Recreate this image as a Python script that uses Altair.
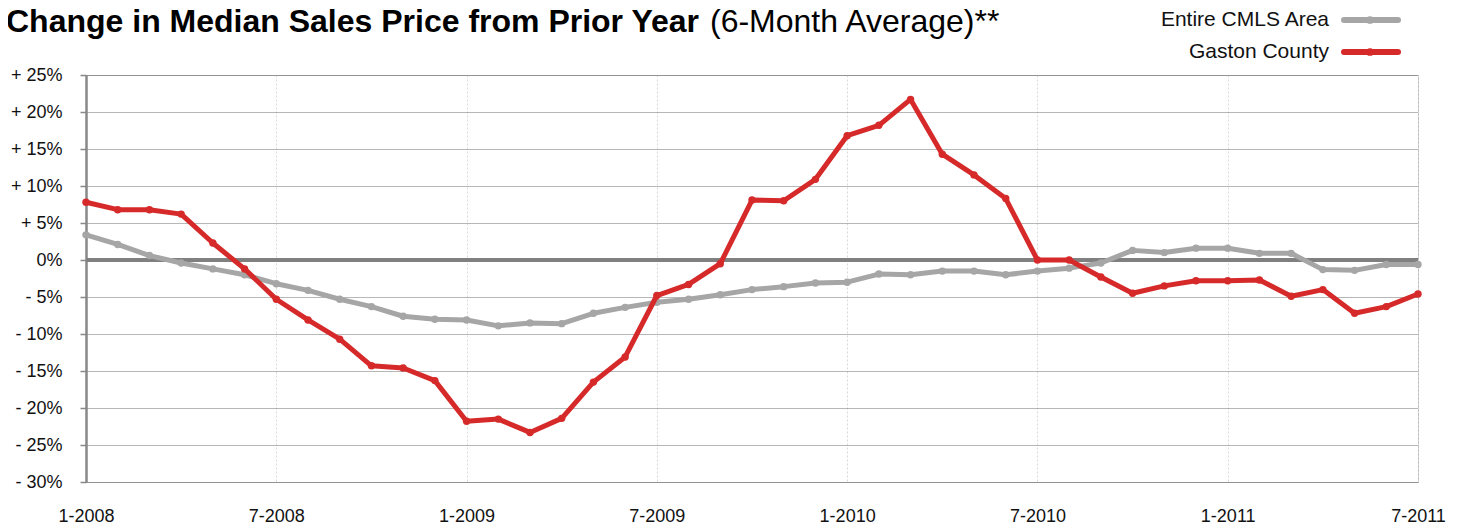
import altair as alt
import pandas as pd

# Month categories (1-2008 .. 7-2011)
months = [f"{m}-{y}" for y in range(2008, 2012) for m in range(1, 13)][:43]

# Change in median sales price from prior year (6-month average), in percent
cmls = [3.4, 2.1, 0.6, -0.4, -1.2, -2.0, -3.2, -4.1, -5.3, -6.3, -7.6, -8.0, -8.1, -8.9,
        -8.5, -8.6, -7.2, -6.4, -5.7, -5.3, -4.7, -4.0, -3.6, -3.1, -3.0, -1.9, -2.0, -1.5,
        -1.5, -2.0, -1.5, -1.1, -0.4, 1.3, 1.0, 1.6, 1.6, 0.9, 0.9, -1.3, -1.4, -0.6, -0.6]
gaston = [7.8, 6.8, 6.8, 6.2, 2.3, -1.2, -5.3, -8.1, -10.7, -14.3, -14.6, -16.3, -21.8, -21.5,
          -23.3, -21.4, -16.5, -13.1, -4.8, -3.3, -0.5, 8.1, 8.0, 10.9, 16.8, 18.2, 21.7, 14.3,
          11.5, 8.3, 0.0, 0.0, -2.3, -4.5, -3.5, -2.8, -2.8, -2.7, -4.9, -4.0, -7.2, -6.3, -4.6]

series_names = ["Entire CMLS Area", "Gaston County"]
series_colors = ["#a6a6a6", "#d62a2a"]
x_tick_labels = ["1-2008", "7-2008", "1-2009", "7-2009", "1-2010", "7-2010", "1-2011", "7-2011"]
y_ticks = [-30, -25, -20, -15, -10, -5, 0, 5, 10, 15, 20, 25]

title_bold = "Change in Median Sales Price from Prior Year"
title_regular = "(6-Month Average)**"

df_cmls = pd.DataFrame({"month": months, "value": cmls})
df_gaston = pd.DataFrame({"month": months, "value": gaston})
one = pd.DataFrame({"a": [0]})

FONT = "Liberation Sans"

x_enc = alt.X(
    "month:N",
    sort=months,
    scale=alt.Scale(type="point", padding=0),
    axis=alt.Axis(
        values=x_tick_labels, labelAngle=0, title=None, domain=False, ticks=False,
        grid=True, gridColor="#d8d8d8", gridDash=[2, 2], gridWidth=1,
        labelOverlap=False,
        labelPadding=25, labelFontSize=18, labelFont=FONT, labelColor="#111111",
    ),
)
y_enc = alt.Y(
    "value:Q",
    scale=alt.Scale(domain=[-30, 25], nice=False, zero=False),
    axis=alt.Axis(
        values=y_ticks, tickCount=20, title=None, labelOverlap=False,
        labelExpr="datum.value > 0 ? '+ ' + datum.value + '%' : (datum.value < 0 ? '- ' + abs(datum.value) + '%' : '0%')",
        grid=True, gridColor="#6f6f6f", gridDash=[1, 1], gridWidth=1,
        domainColor="#888888", domainWidth=2.5,
        tickColor="#888888", tickSize=6, tickWidth=1.5,
        labelPadding=18, labelFontSize=18, labelFont=FONT, labelColor="#111111",
    ),
)

zero_rule = alt.Chart(one).mark_rule(color="#808080", strokeWidth=4).encode(y=alt.datum(0))

def series_layer(df, color):
    return alt.Chart(df).mark_line(
        color=color, strokeWidth=5, strokeJoin="round",
        point=alt.OverlayMarkDef(filled=True, size=55, color=color, opacity=1),
    ).encode(x=x_enc, y=y_enc)

gray_line = series_layer(df_cmls, series_colors[0])
red_line = series_layer(df_gaston, series_colors[1])

# Title (two weights)
t1 = alt.Chart(one).mark_text(
    text=title_bold, font=FONT, fontSize=32, fontWeight="bold", align="left",
    baseline="alphabetic", color="#000000",
).encode(x=alt.value(-80), y=alt.value(-43))
t2 = alt.Chart(one).mark_text(
    text=title_regular, font=FONT, fontSize=32, fontWeight="normal", align="left",
    baseline="alphabetic", color="#000000",
).encode(x=alt.value(624), y=alt.value(-43))

# Manual legend
leg_layers = []
for i, (name, col) in enumerate(zip(series_names, series_colors)):
    ly = -55 + i * 32
    leg_layers.append(alt.Chart(one).mark_text(
        text=name, font=FONT, fontSize=21, align="right", baseline="middle", color="#111111",
    ).encode(x=alt.value(1243), y=alt.value(ly)))
    leg_layers.append(alt.Chart(one).mark_rule(
        color=col, strokeWidth=6, strokeCap="round",
    ).encode(x=alt.value(1258), x2=alt.value(1312), y=alt.value(ly)))
    leg_layers.append(alt.Chart(one).mark_circle(
        color=col, size=60, opacity=1,
    ).encode(x=alt.value(1284), y=alt.value(ly)))

chart = alt.layer(
    zero_rule, gray_line, red_line, t1, t2, *leg_layers
).properties(
    width=1332, height=407,
    autosize=alt.AutoSizeParams(type="none"),
    padding={"left": 78, "top": 67, "right": 34, "bottom": 42},
    background="white",
).configure_view(
    stroke="#6f6f6f", strokeDash=[1, 1], strokeWidth=1,
)

chart.save("out.html", embed_options={"renderer": "svg", "actions": False})
